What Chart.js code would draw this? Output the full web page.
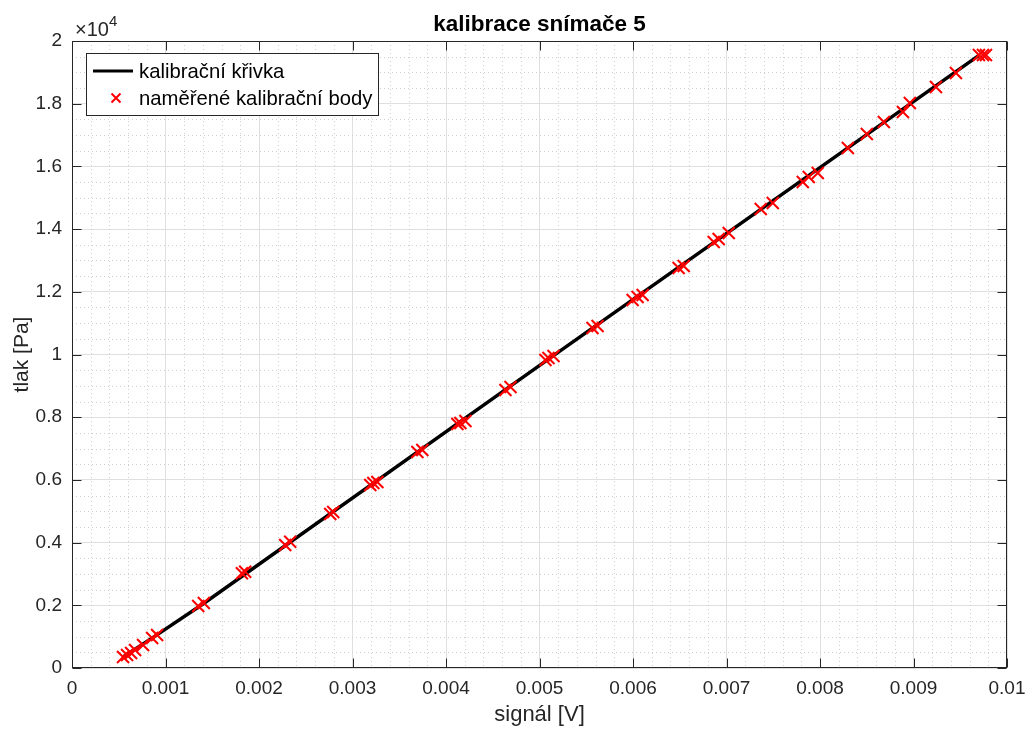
<!DOCTYPE html>
<html><head><meta charset="utf-8">
<script src="https://cdn.jsdelivr.net/npm/chart.js@4.4.0/dist/chart.umd.min.js"></script>
<style>html,body{margin:0;padding:0;background:#fff;overflow:hidden}#wrap{width:1028px;height:729px}</style>
</head><body><div id="wrap"><canvas id="c" width="1028" height="729"></canvas></div>
<script>
const chartTitle = 'kalibrace snímače 5';
const xAxisTitle = 'signál [V]';
const yAxisTitle = 'tlak [Pa]';
const curveLabel = 'kalibrační křivka';
const pointsLabel = 'naměřené kalibrační body';
const yExponentBase = '×10';
const yExponent = '4';

const curveSignal = [0.00055, 0.00090, 0.00140, 0.00510, 0.00970];
const curvePressure = [360, 1040, 2040, 9860, 19540];

const pointSignal = [0.000546, 0.000589, 0.000632, 0.000675, 0.000760, 0.000857, 0.000910,
  0.001350, 0.001410, 0.001817, 0.001852, 0.002280, 0.002334, 0.002762, 0.002794,
  0.003190, 0.003223, 0.003266, 0.003694, 0.003747, 0.004122, 0.004154, 0.004208,
  0.004636, 0.004690, 0.005064, 0.005096, 0.005150, 0.005567, 0.005621,
  0.005996, 0.006049, 0.006103, 0.006488, 0.006542, 0.006863, 0.006916, 0.007024,
  0.007366, 0.007495, 0.007816, 0.007880, 0.007976, 0.008298, 0.008501,
  0.008683, 0.008887, 0.008961, 0.009240, 0.009454, 0.009700, 0.009743, 0.009775];
const pointPressure = [351, 415, 479, 574, 734, 957, 1053,
  1978, 2074, 3021, 3072, 3924, 4029, 4912, 4976,
  5838, 5902, 5934, 6891, 6955, 7784, 7816, 7880,
  8869, 8964, 9826, 9890, 9953, 10846, 10910,
  11739, 11835, 11899, 12760, 12824, 13589, 13685, 13877,
  14642, 14833, 15503, 15663, 15790, 16588, 17035,
  17417, 17736, 18024, 18534, 18981, 19555, 19555, 19555];

const xMin = 0, xMax = 0.01, xStep = 0.001, xMinorStep = 0.0002;
const yMin = 0, yMax = 20000, yStep = 2000, yMinorStep = 500, yScaleFactor = 1e4;

const FONT = "'Liberation Sans', Arial, Helvetica, sans-serif";
const AXIS_COLOR = '#262626';

const decor = {
  id: 'decor',
  beforeDatasetsDraw(chart) {
    const {ctx, chartArea: a, scales: {x, y}} = chart;
    ctx.save();
    ctx.strokeStyle = '#cfcfcf';
    ctx.lineWidth = 1;
    ctx.setLineDash([1, 3]);
    const nx = Math.round((xMax - xMin) / xMinorStep);
    for (let i = 1; i < nx; i++) {
      if (i % 5 === 0) continue;
      const px = Math.round(x.getPixelForValue(xMin + i * xMinorStep)) + 0.5;
      ctx.beginPath(); ctx.moveTo(px, a.top); ctx.lineTo(px, a.bottom); ctx.stroke();
    }
    const ny = Math.round((yMax - yMin) / yMinorStep);
    for (let i = 1; i < ny; i++) {
      if (i % 4 === 0) continue;
      const py = Math.round(y.getPixelForValue(yMin + i * yMinorStep)) + 0.5;
      ctx.beginPath(); ctx.moveTo(a.left, py); ctx.lineTo(a.right, py); ctx.stroke();
    }
    ctx.restore();
  },
  afterDraw(chart) {
    const {ctx, chartArea: a, scales: {x, y}} = chart;
    ctx.save();
    // box
    ctx.strokeStyle = AXIS_COLOR;
    ctx.lineWidth = 1;
    ctx.setLineDash([]);
    const L = Math.round(a.left) + 0.5, R = Math.round(a.right) - 0.5;
    const T = Math.round(a.top) + 0.5, B = Math.round(a.bottom) - 0.5;
    ctx.strokeRect(L, T, R - L, B - T);
    const tl = 9;
    ctx.beginPath();
    for (let v = xMin; v <= xMax + 1e-12; v += xStep) {
      const px = Math.round(x.getPixelForValue(v)) + 0.5;
      ctx.moveTo(px, B); ctx.lineTo(px, B - tl);
      ctx.moveTo(px, T); ctx.lineTo(px, T + tl);
    }
    for (let v = yMin; v <= yMax + 1e-9; v += yStep) {
      const py = Math.round(y.getPixelForValue(v)) + 0.5;
      ctx.moveTo(L, py); ctx.lineTo(L + tl, py);
      ctx.moveTo(R, py); ctx.lineTo(R - tl, py);
    }
    ctx.stroke();
    // title
    ctx.fillStyle = '#000';
    ctx.textAlign = 'center';
    ctx.textBaseline = 'middle';
    ctx.font = 'bold 22.5px ' + FONT;
    ctx.fillText(chartTitle, (a.left + a.right) / 2, 25);
    // exponent
    ctx.fillStyle = AXIS_COLOR;
    ctx.textBaseline = 'alphabetic';
    ctx.textAlign = 'left';
    ctx.font = '20px ' + FONT;
    ctx.fillText(yExponentBase, a.left + 3, 36);
    const w = ctx.measureText(yExponentBase).width;
    ctx.font = '15px ' + FONT;
    ctx.fillText(yExponent, a.left + 3 + w, 26);
    // legend
    const lx = 86, ly = 53, lw = 292, lh = 62;
    ctx.fillStyle = '#fff';
    ctx.fillRect(lx, ly, lw, lh);
    ctx.strokeStyle = AXIS_COLOR;
    ctx.lineWidth = 1;
    ctx.strokeRect(lx + 0.5, ly + 0.5, lw, lh);
    const ds0 = chart.data.datasets[0], ds1 = chart.data.datasets[1];
    ctx.strokeStyle = ds0.borderColor; ctx.lineWidth = 3;
    ctx.beginPath(); ctx.moveTo(93, 71); ctx.lineTo(133, 71); ctx.stroke();
    ctx.strokeStyle = ds1.borderColor; ctx.lineWidth = 2;
    const cx = 116, cy = 98, r = 4.5;
    ctx.beginPath();
    ctx.moveTo(cx - r, cy - r); ctx.lineTo(cx + r, cy + r);
    ctx.moveTo(cx - r, cy + r); ctx.lineTo(cx + r, cy - r);
    ctx.stroke();
    ctx.fillStyle = '#000';
    ctx.font = '20.3px ' + FONT;
    ctx.textBaseline = 'middle';
    ctx.fillText(ds0.label, 139, 72);
    ctx.fillText(ds1.label, 139, 99);
    ctx.restore();
  }
};

new Chart(document.getElementById('c'), {
  type: 'scatter',
  data: {
    datasets: [
      {
        label: curveLabel,
        data: curveSignal.map((v, i) => ({x: v, y: curvePressure[i]})),
        showLine: true,
        borderColor: '#000000',
        backgroundColor: '#000000',
        borderWidth: 3.5,
        pointRadius: 0,
        tension: 0,
        order: 1
      },
      {
        label: pointsLabel,
        data: pointSignal.map((v, i) => ({x: v, y: pointPressure[i]})),
        showLine: false,
        pointStyle: 'crossRot',
        pointRadius: 8.5,
        pointBorderWidth: 2,
        borderColor: '#ff0000',
        backgroundColor: '#ff0000',
        order: 0
      }
    ]
  },
  options: {
    responsive: false,
    animation: false,
    devicePixelRatio: 1,
    layout: {padding: {left: 0, right: 21, top: 41, bottom: 0}},
    plugins: {
      legend: {display: false},
      tooltip: {enabled: false},
      title: {display: false}
    },
    scales: {
      x: {
        type: 'linear', min: xMin, max: xMax,
        ticks: {
          stepSize: xStep, color: AXIS_COLOR, padding: 9,
          font: {family: FONT, size: 19},
          maxRotation: 0, autoSkip: false,
          callback: v => String(Number(v.toFixed(4)))
        },
        grid: {color: '#dfdfdf', lineWidth: 1, drawTicks: false},
        border: {display: false},
        title: {display: true, text: xAxisTitle, color: AXIS_COLOR, font: {family: FONT, size: 22}, padding: {top: 0, bottom: 1}},
        afterFit: s => { s.height = 61; s.paddingLeft = 0; s.paddingRight = 0; }
      },
      y: {
        type: 'linear', min: yMin, max: yMax,
        ticks: {
          stepSize: yStep, color: AXIS_COLOR, padding: 10,
          font: {family: FONT, size: 19},
          autoSkip: false,
          callback: v => String(Number((v / yScaleFactor).toFixed(2)))
        },
        grid: {color: '#dfdfdf', lineWidth: 1, drawTicks: false},
        border: {display: false},
        title: {display: true, text: yAxisTitle, color: AXIS_COLOR, font: {family: FONT, size: 21}, padding: {top: 10, bottom: 0}},
        afterFit: s => { s.width = 72; s.paddingTop = 0; s.paddingBottom = 0; }
      }
    }
  },
  plugins: [decor]
});
</script>
</body></html>
